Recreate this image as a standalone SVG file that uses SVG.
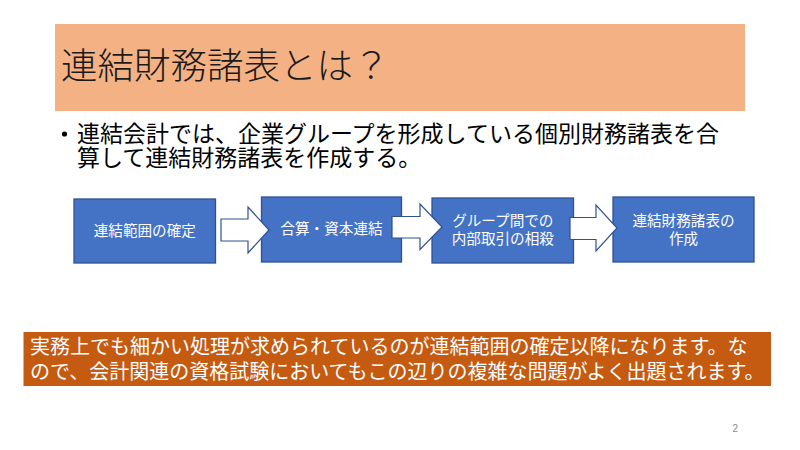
<svg xmlns="http://www.w3.org/2000/svg" width="800" height="450" viewBox="0 0 800 450">
<style>
.jp{font-family:"Noto Sans CJK JP","Noto Sans CJK SC",sans-serif;}
.node rect{fill:#4472C4;stroke:#2F528F;stroke-width:1.3;}
.node text{fill:#FFFFFF;font-size:14.6px;text-anchor:middle;}
.arrow{fill:#FFFFFF;stroke:#2F528F;stroke-width:1.2;stroke-linejoin:miter;}
</style>
<rect width="800" height="450" fill="#FFFFFF"/>
<g id="title">
<rect x="55" y="24" width="690" height="87" fill="#F4B183"/>
<text class="jp" x="61" y="79" font-size="36.5" font-weight="300" fill="#1A1A1A">連結財務諸表とは？</text>
</g>
<g id="bullet" class="jp" fill="#000000">
<circle cx="64.5" cy="134" r="2.6"/>
<text x="77" y="142" font-size="23">連結会計では、企業グループを形成している個別財務諸表を合</text>
<text x="77" y="165.5" font-size="23">算して連結財務諸表を作成する。</text>
</g>
<g id="node1" class="node jp">
<rect x="74" y="199" width="141.5" height="64"/>
<text x="144.8" y="235.5">連結範囲の確定</text>
</g>
<g id="node2" class="node jp">
<rect x="261.5" y="197" width="140" height="65"/>
<text x="331.5" y="234">合算・資本連結</text>
</g>
<g id="node3" class="node jp">
<rect x="432" y="198" width="141.5" height="65"/>
<text x="502.8" y="225.5">グループ間での</text>
<text x="502.8" y="243.5">内部取引の相殺</text>
</g>
<g id="node4" class="node jp">
<rect x="613" y="197" width="141" height="65"/>
<text x="683.5" y="225.5">連結財務諸表の</text>
<text x="683.5" y="243.5">作成</text>
</g>
<g id="connectors">
<polygon class="arrow" points="221,219 248,219 248,207 269,230 248,253 248,241 221,241"/>
<polygon class="arrow" points="392,216.5 420,216.5 420,204 442,227 420,249.5 420,238 392,238"/>
<polygon class="arrow" points="570,217.5 596,217.5 596,205 617,228 596,251 596,239.5 570,239.5"/>
</g>
<g id="note">
<rect x="23.5" y="332" width="747.5" height="54" fill="#C55A11"/>
<text class="jp" x="30" y="354" font-size="20" fill="#FFFFFF">実務上でも細かい処理が求められているのが連結範囲の確定以降になります。な</text>
<text class="jp" x="30" y="379" font-size="20" fill="#FFFFFF">ので、会計関連の資格試験においてもこの辺りの複雑な問題がよく出題されます。</text>
</g>
<text id="page" x="732.5" y="432" font-family="'Liberation Sans',sans-serif" font-size="10" fill="#8A8A8A">2</text>
</svg>
